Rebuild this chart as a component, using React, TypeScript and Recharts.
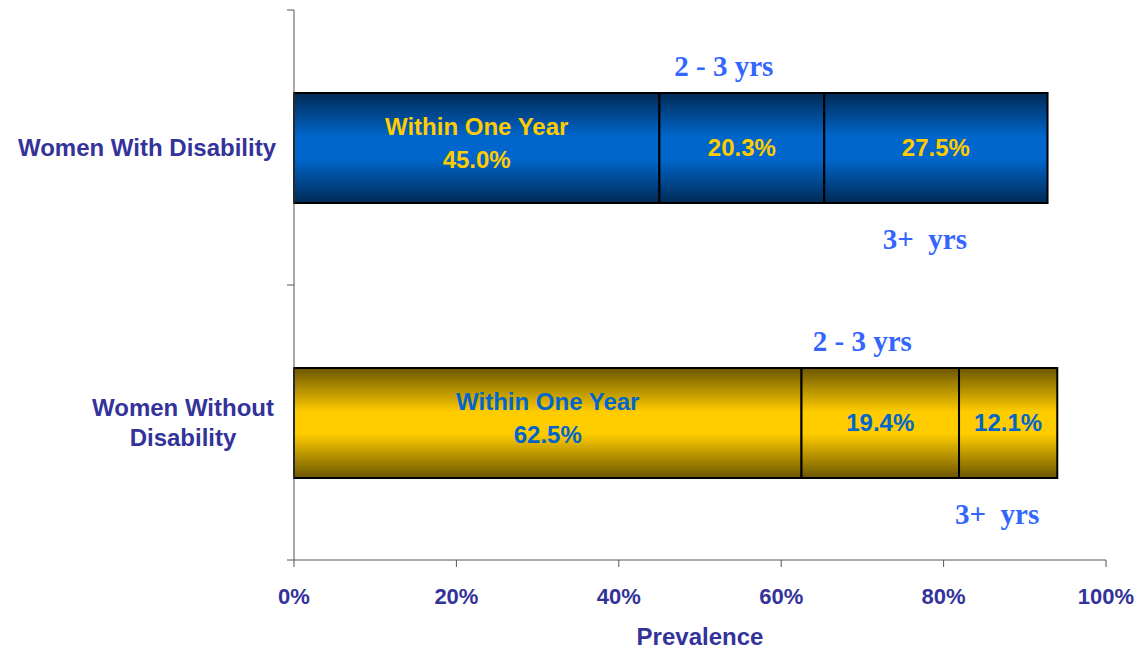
import { BarChart, Bar, XAxis, YAxis, Cell, LabelList } from 'recharts';

const categories = ['Women With Disability', 'Women Without Disability'];
const categoryLines = [['Women With Disability'], ['Women Without', 'Disability']];
const withinOneYear = [45.0, 62.5];
const twoToThree = [20.3, 19.4];
const threePlus = [27.5, 12.1];
const xTicks = [0, 20, 40, 60, 80, 100];

const data = categories.map((name, i) => ({
  name,
  within: withinOneYear[i],
  twoThree: twoToThree[i],
  threePlus: threePlus[i],
}));

const fills = ['url(#blueBar)', 'url(#goldBar)'];
const innerText = ['#ffcc00', '#0066cc'];
const navy = '#333399';
const sans = '"Liberation Sans", Arial, sans-serif';
const serif = '"Liberation Serif", "Times New Roman", serif';

function CategoryTick(props: any) {
  const { x, y, payload, index } = props;
  const half = payload.offset ?? 137.5;
  const lines = categoryLines[index] ?? [payload.value];
  const multi = lines.length > 1;
  const lh = 30;
  const startY = y - ((lines.length - 1) * lh) / 2;
  return (
    <g>
      <line x1={x - 7} x2={x} y1={y + half} y2={y + half} stroke="#555" />
      {index === 0 && <line x1={x - 7} x2={x} y1={y - half} y2={y - half} stroke="#555" />}
      {lines.map((t: string, i: number) => (
        <text
          key={i}
          x={multi ? x - 18 - 93 : x - 18}
          y={startY + i * lh}
          dy="0.35em"
          textAnchor={multi ? 'middle' : 'end'}
          fontFamily={sans}
          fontWeight="bold"
          fontSize={24}
          fill={navy}
        >
          {t}
        </text>
      ))}
    </g>
  );
}

function pct(v: number) {
  return `${v.toFixed(1)}%`;
}

function WithinLabel(props: any) {
  const { x, y, width, height, value, index } = props;
  const cx = x + width / 2;
  const cy = y + height / 2;
  return (
    <g fontFamily={sans} fontWeight="bold" fontSize={24} fill={innerText[index]} textAnchor="middle">
      <text x={cx} y={cy - 21} dy="0.35em">Within One Year</text>
      <text x={cx} y={cy + 12} dy="0.35em">{pct(value)}</text>
    </g>
  );
}

function TwoThreeLabel(props: any) {
  const { x, y, width, height, value, index } = props;
  const cx = x + width / 2;
  return (
    <g textAnchor="middle" fontWeight="bold">
      <text x={cx} y={y + height / 2} dy="0.35em" fontFamily={sans} fontSize={24} fill={innerText[index]}>
        {pct(value)}
      </text>
      <text x={cx - 18} y={y - 27} dy="0.35em" fontFamily={serif} fontSize={29} fill="#3366ff">
        2 - 3 yrs
      </text>
    </g>
  );
}

function ThreePlusLabel(props: any) {
  const { x, y, width, height, value, index } = props;
  const cx = x + width / 2;
  return (
    <g textAnchor="middle" fontWeight="bold">
      <text x={cx} y={y + height / 2} dy="0.35em" fontFamily={sans} fontSize={24} fill={innerText[index]}>
        {pct(value)}
      </text>
      <text x={cx - 11} y={y + height + 36} dy="0.35em" fontFamily={serif} fontSize={29} fill="#3366ff" style={{ whiteSpace: 'pre' }}>
        {'3+  yrs'}
      </text>
    </g>
  );
}

function Gradients() {
  return (
    <svg width={0} height={0} style={{ position: 'absolute' }}>
      <defs>
        <linearGradient id="blueBar" x1="0" y1="0" x2="0" y2="1">
          <stop offset="0%" stopColor="#002a55" />
          <stop offset="40%" stopColor="#0066cc" />
          <stop offset="60%" stopColor="#0066cc" />
          <stop offset="100%" stopColor="#002a55" />
        </linearGradient>
        <linearGradient id="goldBar" x1="0" y1="0" x2="0" y2="1">
          <stop offset="0%" stopColor="#6b5600" />
          <stop offset="40%" stopColor="#ffcc00" />
          <stop offset="60%" stopColor="#ffcc00" />
          <stop offset="100%" stopColor="#6b5600" />
        </linearGradient>
      </defs>
    </svg>
  );
}

export default function App() {
  return (
    <div style={{ position: 'absolute', left: 0, top: 0, background: '#fff' }}>
      <Gradients />
      <BarChart
        width={1144}
        height={652}
        data={data}
        layout="vertical"
        margin={{ top: 10, right: 38, bottom: 0, left: 0 }}
      >
        <XAxis
          type="number"
          domain={[0, 100]}
          ticks={xTicks}
          tickFormatter={(v: number) => `${v}%`}
          height={92}
          stroke="#555"
          tickSize={7}
          tickMargin={21}
          tick={{ fill: navy, fontFamily: sans, fontWeight: 'bold', fontSize: 22 }}
          label={{
            value: 'Prevalence',
            position: 'insideBottom',
            offset: 7,
            fill: navy,
            fontFamily: sans,
            fontWeight: 'bold',
            fontSize: 24,
          }}
        />
        <YAxis
          type="category"
          dataKey="name"
          width={294}
          stroke="#555"
          tickLine={false}
          tickSize={0}
          tickMargin={0}
          tick={<CategoryTick />}
        />
        <Bar dataKey="within" stackId="a" barSize={110} stroke="#000" strokeWidth={2} isAnimationActive={false}>
          {data.map((_, i) => (
            <Cell key={i} fill={fills[i]} />
          ))}
          <LabelList dataKey="within" content={<WithinLabel />} />
        </Bar>
        <Bar dataKey="twoThree" stackId="a" barSize={110} stroke="#000" strokeWidth={2} isAnimationActive={false}>
          {data.map((_, i) => (
            <Cell key={i} fill={fills[i]} />
          ))}
          <LabelList dataKey="twoThree" content={<TwoThreeLabel />} />
        </Bar>
        <Bar dataKey="threePlus" stackId="a" barSize={110} stroke="#000" strokeWidth={2} isAnimationActive={false}>
          {data.map((_, i) => (
            <Cell key={i} fill={fills[i]} />
          ))}
          <LabelList dataKey="threePlus" content={<ThreePlusLabel />} />
        </Bar>
      </BarChart>
    </div>
  );
}
